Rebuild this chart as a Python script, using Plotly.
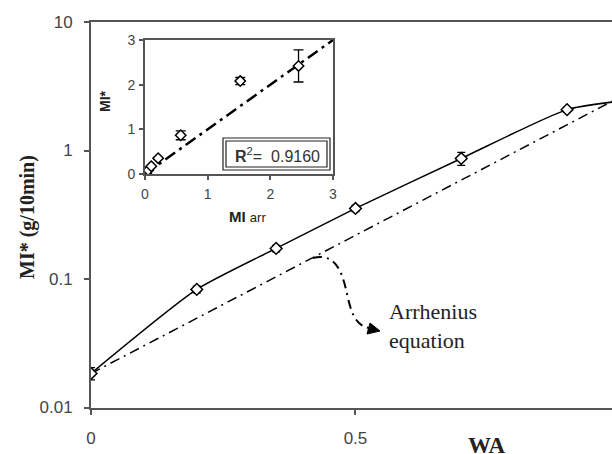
import plotly.graph_objects as go

# Melt index vs. weight fraction WA (log scale), with the Arrhenius prediction
wa = [0.0, 0.2, 0.35, 0.5, 0.7, 0.9, 1.0]
mi_star = [0.0184, 0.083, 0.173, 0.354, 0.867, 2.08, 2.42]
mi_err = [0.002, 0.005, 0.01, 0.02, 0.1, 0.08, 0.36]

arr_wa = [0.0, 1.0]
arr_mi = [0.0184, 2.6]

# Inset: measured MI* against Arrhenius-predicted MI
mi_arr = [0.02, 0.05, 0.10, 0.21, 0.57, 1.52, 2.45]
parity_x = [0, 3]
parity_y = [0, 3]
r2_text = "0.9160"

W, H = 612, 454


def px(x, y):
    """Pixel position -> paper coordinates."""
    return x / W, (H - y) / H


fig = go.Figure()

fig.add_trace(go.Scatter(
    x=arr_wa, y=arr_mi, mode="lines",
    line=dict(color="black", width=1.5, dash="10px,5px,2px,5px"),
    xaxis="x", yaxis="y", hoverinfo="skip",
))
fig.add_trace(go.Scatter(
    x=wa, y=mi_star, mode="lines+markers",
    line=dict(color="black", width=1.5, shape="spline", smoothing=0.6),
    marker=dict(symbol="diamond", size=9, color="white",
                line=dict(color="black", width=1.5)),
    error_y=dict(type="data", array=mi_err, color="black", thickness=1.3, width=4),
    xaxis="x", yaxis="y",
))

fig.add_trace(go.Scatter(
    x=parity_x, y=parity_y, mode="lines",
    line=dict(color="black", width=2.5, dash="12px,5px,3px,5px"),
    xaxis="x2", yaxis="y2", hoverinfo="skip",
))
fig.add_trace(go.Scatter(
    x=mi_arr, y=mi_star, mode="markers",
    marker=dict(symbol="diamond", size=8, color="white",
                line=dict(color="black", width=1.5)),
    error_y=dict(type="data", array=mi_err, color="black", thickness=1.3, width=5),
    xaxis="x2", yaxis="y2",
))

axis_col = "#555555"
tick_font = dict(family="Liberation Sans, Arial", size=17, color="#444444")
inset_font = dict(family="Liberation Sans, Arial", size=14, color="#444444")

x0, _ = px(91, 0)
_, yb = px(0, 407.5)
_, yt = px(0, 22)
ix0, iyb = px(145, 174)
ix1, iyt = px(333, 40)

fig.update_layout(
    width=W, height=H,
    margin=dict(l=0, r=0, t=0, b=0, pad=0, autoexpand=False),
    paper_bgcolor="white", plot_bgcolor="white",
    showlegend=False,
    xaxis=dict(
        domain=[x0, 1], range=[0, 0.985], anchor="y", automargin=False,
        tickvals=[0, 0.5, 1], ticktext=["0", "0.5", "1"],
        showgrid=False, zeroline=False,
        showline=True, linecolor=axis_col, linewidth=2, mirror=True,
        ticks="outside", ticklen=5, tickcolor=axis_col, tickwidth=1.5,
        tickfont=tick_font, ticklabelstandoff=9,
    ),
    yaxis=dict(
        domain=[yb, yt], type="log", range=[-2, 1], anchor="x", automargin=False,
        tickvals=[0.01, 0.1, 1, 10], ticktext=["0.01", "0.1", "1", "10"],
        showgrid=False, zeroline=False,
        showline=True, linecolor=axis_col, linewidth=2,
        ticks="outside", ticklen=5, tickcolor=axis_col, tickwidth=1.5,
        tickfont=tick_font, ticklabelstandoff=8,
    ),
    xaxis2=dict(
        domain=[ix0, ix1], range=[0, 3], anchor="y2", automargin=False,
        tickvals=[0, 1, 2, 3],
        showgrid=False, zeroline=False,
        showline=True, linecolor=axis_col, linewidth=2, mirror=True,
        ticks="outside", ticklen=4, tickcolor=axis_col, tickwidth=1.5,
        tickfont=inset_font, ticklabelstandoff=2,
    ),
    yaxis2=dict(
        domain=[iyb, iyt], range=[0, 3], anchor="x2", automargin=False,
        tickvals=[0, 1, 2, 3],
        showgrid=False, zeroline=False,
        showline=True, linecolor=axis_col, linewidth=2, mirror=True,
        ticks="outside", ticklen=4, tickcolor=axis_col, tickwidth=1.5,
        tickfont=inset_font, ticklabelstandoff=1,
    ),
)

# R^2 box (double outline)
for (a, b, c, d) in [(223, 138, 330, 170), (226, 141, 327, 167)]:
    xa, ya = px(a, d)
    xc, yc = px(c, b)
    fig.add_shape(type="rect", xref="paper", yref="paper",
                  x0=xa, y0=ya, x1=xc, y1=yc,
                  line=dict(color="#222222", width=1.2), fillcolor="rgba(0,0,0,0)")


def svg_path(points, closed=False):
    p = [px(*q) for q in points]
    s = f"M {p[0][0]},{p[0][1]} "
    if closed:
        s += " ".join(f"L {a},{b}" for a, b in p[1:]) + " Z"
    else:
        s += f"C {p[1][0]},{p[1][1]} {p[2][0]},{p[2][1]} {p[3][0]},{p[3][1]} "
        s += f"C {p[4][0]},{p[4][1]} {p[5][0]},{p[5][1]} {p[6][0]},{p[6][1]}"
    return s


# curved pointer from the Arrhenius line to its label
curve = [(313, 258), (338, 252), (343, 276), (348, 298), (353, 321), (360, 326), (369, 328)]
fig.add_shape(type="path", xref="paper", yref="paper", path=svg_path(curve),
              line=dict(color="black", width=2, dash="9px,5px,2px,5px"))
head = [(380, 331), (367, 334), (370, 323)]
fig.add_shape(type="path", xref="paper", yref="paper", path=svg_path(head, closed=True),
              line=dict(color="black", width=1), fillcolor="black")

serif = "Liberation Serif, Times New Roman, serif"

tx, ty = px(387, 326)
fig.add_annotation(xref="paper", yref="paper", x=tx, y=ty,
                   xanchor="left", yanchor="middle", align="left", showarrow=False,
                   text="Arrhenius<br>equation",
                   font=dict(family=serif, size=22, color="#222222"))

lx, ly = px(27, 217)
fig.add_annotation(xref="paper", yref="paper", x=lx, y=ly, textangle=-90,
                   xanchor="center", yanchor="middle", showarrow=False,
                   text="<b>MI* (g/10min)</b>",
                   font=dict(family=serif, size=20, color="#222222"))

wx, wy = px(487, 445)
fig.add_annotation(xref="paper", yref="paper", x=wx, y=wy,
                   xanchor="center", yanchor="middle", showarrow=False,
                   text="<b>WA</b>",
                   font=dict(family=serif, size=23, color="#222222"))

sans = "Liberation Sans, Arial, sans-serif"

ax_, ay_ = px(105, 101)
fig.add_annotation(xref="paper", yref="paper", x=ax_, y=ay_, textangle=-90,
                   xanchor="center", yanchor="middle", showarrow=False,
                   text="<b>MI*</b>",
                   font=dict(family=sans, size=14, color="#222222"))

bx, by = px(247, 216)
fig.add_annotation(xref="paper", yref="paper", x=bx, y=by,
                   xanchor="center", yanchor="middle", showarrow=False,
                   text="<b>MI</b> <span style='font-size:13px'>arr</span>",
                   font=dict(family=sans, size=15, color="#222222"))

rx, ry = px(277, 155)
fig.add_annotation(xref="paper", yref="paper", x=rx, y=ry,
                   xanchor="center", yanchor="middle", showarrow=False,
                   text=f"<b>R</b><sup>2</sup>=  {r2_text}",
                   font=dict(family=sans, size=16, color="#333333"))

fig.write_html("out.html")
